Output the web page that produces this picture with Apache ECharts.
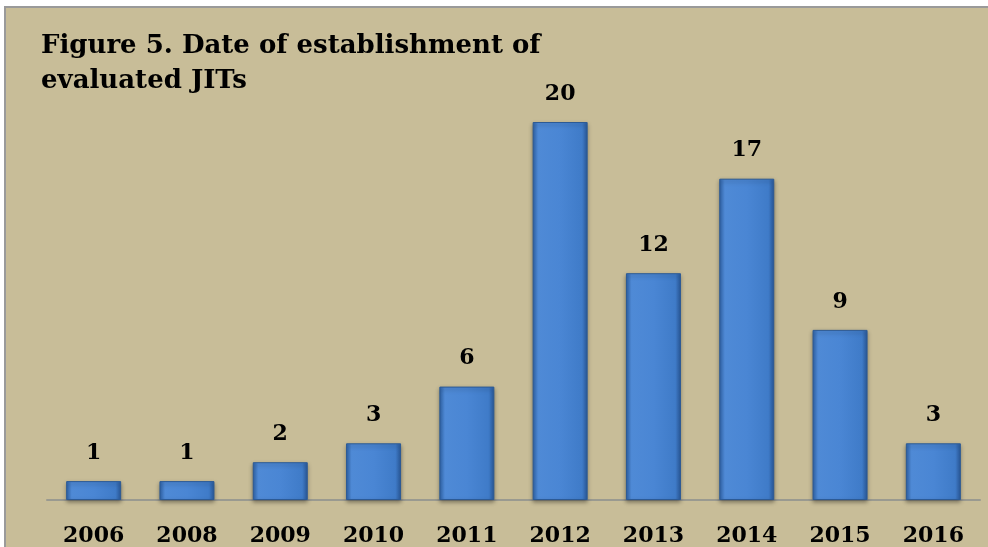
<!DOCTYPE html>
<html>
<head>
<meta charset="utf-8">
<style>
html,body{margin:0;padding:0;background:#fff;}
#chart{width:988px;height:547px;}
</style>
<script src="https://cdn.jsdelivr.net/npm/echarts@6/dist/echarts.min.js"></script>
</head>
<body>
<div id="chart"></div>
<script>
var years = ['2006','2008','2009','2010','2011','2012','2013','2014','2015','2016'];
var counts = [1, 1, 2, 3, 6, 20, 12, 17, 9, 3];
var titleText = 'Figure 5. Date of establishment of\nevaluated JITs';

var chart = echarts.init(document.getElementById('chart'));
var serif = '"DejaVu Serif", "Liberation Serif", serif';

var option = {
	animation: false,
	backgroundColor: '#fff',
	graphic: [{
		type: 'rect',
		z: -10,
		shape: {x: 5, y: 7, width: 1000, height: 560},
		style: {fill: '#c8bd98', stroke: '#9a9a9a', lineWidth: 2}
	}],
	title: {
		text: titleText,
		left: 36,
		top: 24,
		textStyle: {
			fontFamily: serif,
			fontWeight: 'bold',
			fontSize: 26,
			lineHeight: 35,
			color: '#000'
		}
	},
	grid: {
		left: 47,
		right: 8,
		top: 122,
		bottom: 47
	},
	xAxis: {
		type: 'category',
		data: years,
		axisLine: {lineStyle: {color: '#9a9a90', width: 2}},
		axisTick: {show: false},
		axisLabel: {
			margin: 25,
			fontFamily: serif,
			fontWeight: 'bold',
			fontSize: 22,
			color: '#000'
		}
	},
	yAxis: {
		type: 'value',
		min: 0,
		max: 20,
		show: false,
		splitLine: {show: false}
	},
	series: [{
		type: 'bar',
		data: counts,
		barWidth: 55,
		itemStyle: {
			color: new echarts.graphic.LinearGradient(0, 0, 1, 0, [
				{offset: 0, color: '#2f63a8'},
				{offset: 0.1, color: '#4f8ad6'},
				{offset: 0.5, color: '#4a86d4'},
				{offset: 0.9, color: '#3f7bc8'},
				{offset: 1, color: '#2a5a9c'}
			]),
			borderColor: '#2c5a95',
			borderWidth: 1,
			shadowColor: 'rgba(0,0,0,0.35)',
			shadowBlur: 4,
			shadowOffsetY: 2
		},
		label: {
			show: true,
			position: 'top',
			distance: 17,
			fontFamily: serif,
			fontWeight: 'bold',
			fontSize: 22,
			color: '#000'
		}
	}]
};
chart.setOption(option);
</script>
</body>
</html>
